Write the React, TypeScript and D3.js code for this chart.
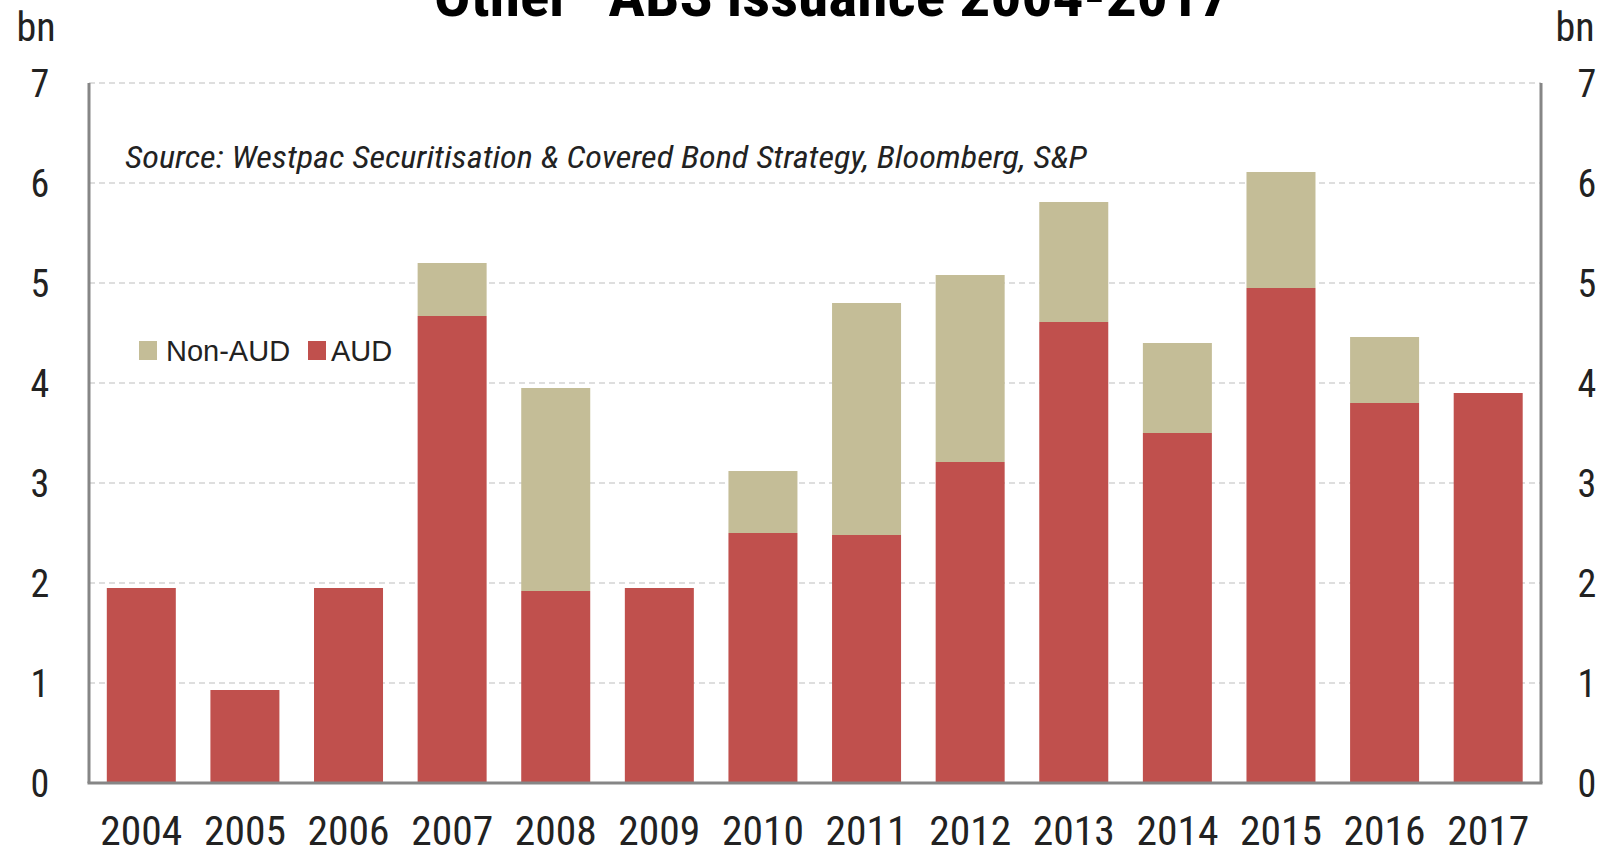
import React from "react";
import * as d3 from "d3";

const years = ["2004","2005","2006","2007","2008","2009","2010","2011","2012","2013","2014","2015","2016","2017"];
const aud = [1.95, 0.93, 1.95, 4.67, 1.92, 1.95, 2.50, 2.48, 3.21, 4.61, 3.50, 4.95, 3.80, 3.90];
const nonAud = [0, 0, 0, 0.53, 2.03, 0, 0.62, 2.32, 1.87, 1.20, 0.90, 1.16, 0.66, 0];
const yTicks = [0, 1, 2, 3, 4, 5, 6, 7];
const title = "\u201COther\u201D ABS issuance 2004-2017";
const source = "Source: Westpac Securitisation & Covered Bond Strategy, Bloomberg, S&P";
const seriesNames = ["Non-AUD", "AUD"];

const W = 1608, H = 857;
const RED = "#C0504D", TAN = "#C4BD97", AXIS = "#868686";
const NARROW = "'Liberation Sans Narrow', 'Arial Narrow', 'Roboto Condensed', sans-serif";

export default function App() {
  const x = d3.scaleBand<string>().domain(years).range([89.5, 1540]).paddingInner(0.334).paddingOuter(0.167);
  const y = d3.scaleLinear().domain([0, 7]).range([783, 83]);
  const bw = x.bandwidth();
  const left = 89, right = 1541;

  return (
    <svg width={W} height={H} style={{ position: "absolute", left: 0, top: 0, background: "#fff" }}>
      {/* gridlines */}
      {yTicks.filter(t => t > 0).map(t => (
        <line key={"g" + t} x1={left} x2={right} y1={y(t)} y2={y(t)} stroke="#d4d4d4" strokeWidth={1.6} strokeDasharray="6,4" />
      ))}
      {/* bars */}
      {years.map((yr, i) => (
        <g key={yr}>
          <rect x={x(yr)} width={bw} y={y(aud[i])} height={y(0) - y(aud[i])} fill={RED} />
          {nonAud[i] > 0 && (
            <rect x={x(yr)} width={bw} y={y(aud[i] + nonAud[i])} height={y(aud[i]) - y(aud[i] + nonAud[i])} fill={TAN} />
          )}
        </g>
      ))}
      {/* axes */}
      <line x1={left} x2={left} y1={y(7)} y2={y(0)} stroke={AXIS} strokeWidth={3} />
      <line x1={right} x2={right} y1={y(7)} y2={y(0)} stroke={AXIS} strokeWidth={3} />
      <line x1={left - 1.5} x2={right + 1.5} y1={y(0)} y2={y(0)} stroke={AXIS} strokeWidth={3} />
      {/* y tick labels */}
      {yTicks.map(t => (
        <g key={"t" + t}>
          <text x={40} y={y(t)} dy="0.36em" textAnchor="middle" fontFamily={NARROW} fontSize={38} fill="#222">{t}</text>
          <text x={1587} y={y(t)} dy="0.36em" textAnchor="middle" fontFamily={NARROW} fontSize={38} fill="#222">{t}</text>
        </g>
      ))}
      {/* x labels */}
      {years.map(yr => (
        <text key={"x" + yr} x={(x(yr) as number) + bw / 2} y={845} textAnchor="middle" fontFamily={NARROW} fontSize={40} fill="#222" textLength={82} lengthAdjust="spacingAndGlyphs">{yr}</text>
      ))}
      {/* units */}
      <text x={36} y={41} textAnchor="middle" fontFamily={NARROW} fontSize={40} fill="#222">bn</text>
      <text x={1575} y={41} textAnchor="middle" fontFamily={NARROW} fontSize={40} fill="#222">bn</text>
      {/* title */}
      <text x={820} y={16} textAnchor="middle" fontFamily={NARROW} fontWeight="bold" fontSize={58} fill="#000" textLength={820} lengthAdjust="spacingAndGlyphs">{title}</text>
      {/* source */}
      <text x={125} y={168} fontFamily={NARROW} fontStyle="italic" fontSize={32} fill="#222" textLength={962} lengthAdjust="spacingAndGlyphs">{source}</text>
      {/* legend */}
      <rect x={139} y={341} width={18} height={19} fill={TAN} />
      <text x={166} y={361} fontFamily="'Liberation Sans', Arial, sans-serif" fontSize={29} fill="#222">{seriesNames[0]}</text>
      <rect x={308} y={341} width={18} height={19} fill={RED} />
      <text x={331} y={361} fontFamily="'Liberation Sans', Arial, sans-serif" fontSize={29} fill="#222">{seriesNames[1]}</text>
    </svg>
  );
}
